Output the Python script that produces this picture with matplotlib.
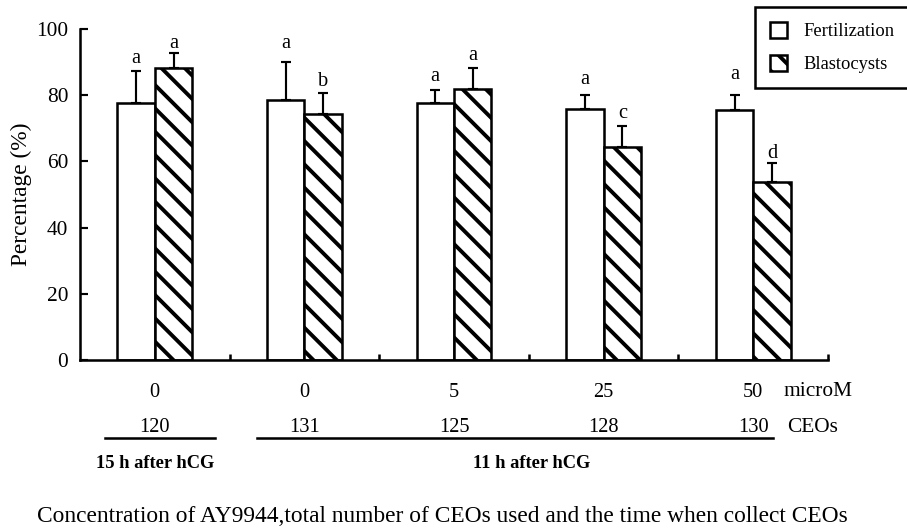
import matplotlib
matplotlib.use('Agg')
import matplotlib.pyplot as plt
import matplotlib.transforms as mtransforms
import numpy as np

plt.rcParams['font.family'] = ['Liberation Serif', 'DejaVu Serif']
plt.rcParams['hatch.linewidth'] = 2.0

# data
conc = ['0', '0', '5', '25', '50']
ceos = ['120', '131', '125', '128', '130']
fert = [77.5, 78.5, 77.5, 75.8, 75.5]
fert_err = [9.7, 11.5, 4.1, 4.4, 4.7]
blast = [88.1, 74.2, 81.9, 64.4, 53.8]
blast_err = [4.6, 6.6, 6.2, 6.2, 5.6]
fert_sig = ['a', 'a', 'a', 'a', 'a']
blast_sig = ['a', 'b', 'a', 'c', 'd']
fert_sig_y = [89.6, 94.4, 84.3, 83.3, 84.9]
blast_sig_y = [94.4, 82.8, 90.6, 73.0, 61.1]

DPI = 140
W, H = 907, 529
fig = plt.figure(figsize=(W / DPI, H / DPI), dpi=DPI)
ax = fig.add_axes([80 / W, 1 - 360 / H, 748 / W, 331 / H])

x = np.arange(len(conc))
w = 0.25
ekw = dict(elinewidth=1.1, capthick=1.1, ecolor='black')
ax.bar(x - w / 2, fert, w, yerr=[np.zeros(len(x)), fert_err], color='white',
       edgecolor='black', linewidth=1.3, capsize=2.4, error_kw=ekw,
       label='Fertilization')
ax.bar(x + w / 2, blast, w, yerr=[np.zeros(len(x)), blast_err], color='white',
       edgecolor='black', linewidth=1.3, capsize=2.4, error_kw=ekw,
       hatch='\\\\', label='Blastocysts')

for i in range(len(x)):
    ax.text(x[i] - w / 2, fert_sig_y[i], fert_sig[i], ha='center', va='baseline', fontsize=10.5)
    ax.text(x[i] + w / 2, blast_sig_y[i], blast_sig[i], ha='center', va='baseline', fontsize=10.5)

ax.set_xlim(-0.5, 4.5)
ax.set_ylim(0, 100)
ax.set_yticks(range(0, 101, 20))
ax.set_xticks(x)
ax.set_xticklabels(conc)
ax.set_xticks(list(x + 0.5), minor=True)
ax.tick_params(axis='x', which='major', length=0, pad=12, labelsize=10.5)
ax.tick_params(axis='x', which='minor', direction='in', length=3, width=1.3)
ax.tick_params(axis='y', direction='in', length=4, width=1.1, labelsize=11, pad=6)
for s in ['top', 'right']:
    ax.spines[s].set_visible(False)
for s in ['left', 'bottom']:
    ax.spines[s].set_linewidth(1.3)
ax.set_ylabel('Percentage (%)', fontsize=12, labelpad=2)

# rows under the axis
trans = mtransforms.blended_transform_factory(ax.transData, fig.transFigure)
ax.text(4.2, 1 - 395.5 / H, 'microM', transform=trans, ha='left', va='baseline', fontsize=11)
for i, c in enumerate(ceos):
    ax.text(x[i], 1 - 432.5 / H, c, transform=trans, ha='center', va='baseline', fontsize=10.5)
ax.text(4.23, 1 - 432.5 / H, 'CEOs', transform=trans, ha='left', va='baseline', fontsize=11)

ax.plot([x[0] - 0.33, x[0] + 0.4], [1 - 438 / H] * 2, transform=trans,
        color='black', lw=1.3, clip_on=False)
ax.plot([x[1] - 0.32, x[4] + 0.13], [1 - 438 / H] * 2, transform=trans,
        color='black', lw=1.3, clip_on=False)
ax.text(x[0], 1 - 468 / H, '15 h after hCG', transform=trans, ha='center',
        va='baseline', fontsize=9.5, fontweight='bold')
ax.text(2.52, 1 - 468 / H, '11 h after hCG', transform=trans, ha='center',
        va='baseline', fontsize=9.5, fontweight='bold')

fig.text(442 / W, 1 - 522 / H,
         'Concentration of AY9944,total number of CEOs used and the time when collect CEOs',
         ha='center', va='baseline', fontsize=12)

fig.legend(loc='upper left', bbox_to_anchor=(755 / W, 1 - 7 / H), borderaxespad=0,
           fontsize=9.5, handlelength=0.95, handleheight=0.95, handletextpad=0.85,
           borderpad=0.8, labelspacing=0.8, fancybox=False, framealpha=1,
           edgecolor='black').get_frame().set_linewidth(1.3)

fig.savefig('out.png', dpi=DPI)
